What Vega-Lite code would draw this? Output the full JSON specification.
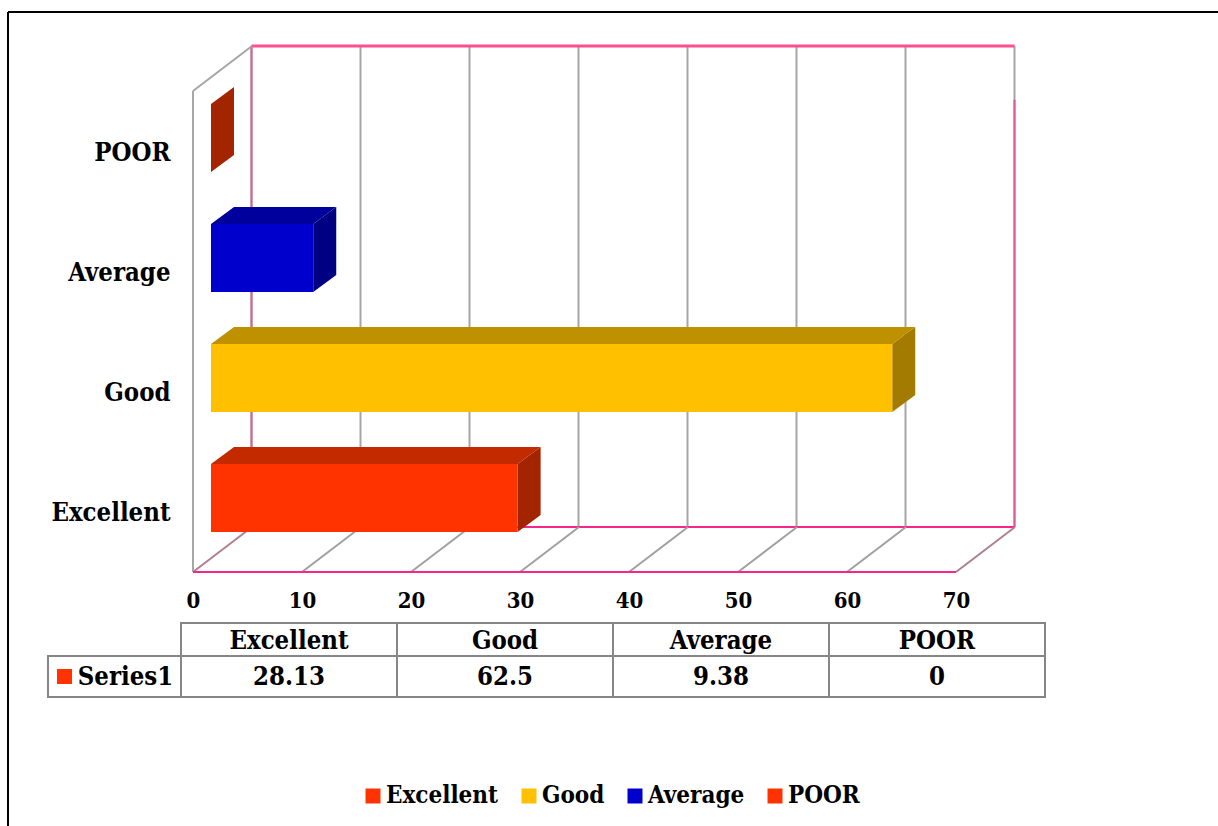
{"$schema":"https://vega.github.io/schema/vega-lite/v6.json","width":1218,"height":826,"padding":0,"autosize":{"type":"none"},"background":"white","config":{"view":{"stroke":null},"font":"DejaVu Serif Condensed"},
"datasets":{"bars":[{"category":"Excellent","value":28.13},{"category":"Good","value":62.5},{"category":"Average","value":9.38},{"category":"POOR","value":0}],
"ticks":[{"tick":0},{"tick":10},{"tick":20},{"tick":30},{"tick":40},{"tick":50},{"tick":60},{"tick":70}],
"series":[{"series":"Series1"}],"one":[{"n":1}]},
"resolve":{"scale":{"x":"independent","y":"independent","color":"independent"}},
"layer":[
{"data":{"name":"one"},"mark":{"type":"rule","color":"#000000","strokeWidth":2},"encoding":{"x":{"datum":0,"type":"quantitative","scale":{"domain":[0,1],"range":[8,1218]},"axis":null},"x2":{"datum":1},"y":{"datum":0,"type":"quantitative","scale":{"domain":[0,1],"range":[12,826]},"axis":null}}},
{"data":{"name":"one"},"mark":{"type":"rule","color":"#000000","strokeWidth":2},"encoding":{"x":{"datum":0,"type":"quantitative","scale":{"domain":[0,1],"range":[8,1218]},"axis":null},"y":{"datum":0,"type":"quantitative","scale":{"domain":[0,1],"range":[12,826]},"axis":null},"y2":{"datum":1}}},
{"data":{"name":"ticks"},"mark":{"type":"rule","color":"#A6A6A6","strokeWidth":2,"xOffset":58.5},"encoding":{"x":{"field":"tick","type":"quantitative","scale":{"domain":[0,70],"range":[193,956],"nice":false,"zero":false},"axis":{"values":[0,10,20,30,40,50,60,70],"orient":"bottom","offset":-236,"title":null,"domain":false,"ticks":false,"grid":false,"labelPadding":0,"labelBaseline":"top","labelFont":"DejaVu Serif Condensed","labelFontWeight":"bold","labelFontSize":22,"labelColor":"#000000","labelFlush":false,"labelOverlap":false,"labelBound":false}},"y":{"datum":0,"type":"quantitative","scale":{"domain":[0,1],"range":[527,46]},"axis":null},"y2":{"datum":1}}},
{"data":{"name":"one"},"mark":{"type":"rule","color":"#D8608F","strokeWidth":2,"xOffset":58.5},"encoding":{"x":{"datum":0,"type":"quantitative","scale":{"domain":[0,70],"range":[193,956],"nice":false,"zero":false},"axis":null},"y":{"datum":0,"type":"quantitative","scale":{"domain":[0,1],"range":[527,46]},"axis":null},"y2":{"datum":1}}},
{"data":{"name":"one"},"mark":{"type":"rule","color":"#DC5A90","strokeWidth":2,"xOffset":58.5},"encoding":{"x":{"datum":70,"type":"quantitative","scale":{"domain":[0,70],"range":[193,956],"nice":false,"zero":false},"axis":null},"y":{"datum":0,"type":"quantitative","scale":{"domain":[0,1],"range":[527,46]},"axis":null},"y2":{"datum":0.888}}},
{"data":{"name":"one"},"mark":{"type":"rule","color":"#FF4F90","strokeWidth":3,"xOffset":58.5,"x2Offset":58.5},"encoding":{"x":{"datum":0,"type":"quantitative","scale":{"domain":[0,70],"range":[193,956],"nice":false,"zero":false},"axis":null},"x2":{"datum":70},"y":{"datum":1,"type":"quantitative","scale":{"domain":[0,1],"range":[527,46]},"axis":null}}},
{"data":{"name":"one"},"mark":{"type":"rule","color":"#F5288A","strokeWidth":2,"xOffset":58.5,"x2Offset":58.5},"encoding":{"x":{"datum":0,"type":"quantitative","scale":{"domain":[0,70],"range":[193,956],"nice":false,"zero":false},"axis":null},"x2":{"datum":70},"y":{"datum":0,"type":"quantitative","scale":{"domain":[0,1],"range":[527,46]},"axis":null}}},
{"data":{"name":"ticks"},"transform":[{"filter":"datum.tick > 0 && datum.tick < 70"}],"mark":{"type":"point","shape":"M0,0L59,-45","size":4,"filled":false,"color":"#A0A0A0","strokeWidth":2,"opacity":1},"encoding":{"x":{"field":"tick","type":"quantitative","scale":{"domain":[0,70],"range":[193,956],"nice":false,"zero":false},"axis":null},"y":{"datum":0,"type":"quantitative","scale":{"domain":[0,1],"range":[572,91]},"axis":null}}},
{"data":{"name":"ticks"},"transform":[{"filter":"datum.tick == 0 || datum.tick == 70"}],"mark":{"type":"point","shape":"M0,0L59,-45","size":4,"filled":false,"color":"#B07F93","strokeWidth":2,"opacity":1},"encoding":{"x":{"field":"tick","type":"quantitative","scale":{"domain":[0,70],"range":[193,956],"nice":false,"zero":false},"axis":null},"y":{"datum":0,"type":"quantitative","scale":{"domain":[0,1],"range":[572,91]},"axis":null}}},
{"data":{"name":"one"},"mark":{"type":"point","shape":"M0,0L59,-45","size":4,"filled":false,"color":"#A6A6A6","strokeWidth":2,"opacity":1},"encoding":{"x":{"datum":0,"type":"quantitative","scale":{"domain":[0,70],"range":[193,956],"nice":false,"zero":false},"axis":null},"y":{"datum":1,"type":"quantitative","scale":{"domain":[0,1],"range":[572,91]},"axis":null}}},
{"data":{"name":"one"},"mark":{"type":"rule","color":"#A6A6A6","strokeWidth":2},"encoding":{"x":{"datum":0,"type":"quantitative","scale":{"domain":[0,70],"range":[193,956],"nice":false,"zero":false},"axis":null},"y":{"datum":0,"type":"quantitative","scale":{"domain":[0,1],"range":[572,91]},"axis":null},"y2":{"datum":1}}},
{"data":{"name":"one"},"mark":{"type":"rule","color":"#F5288A","strokeWidth":2},"encoding":{"x":{"datum":0,"type":"quantitative","scale":{"domain":[0,70],"range":[193,956],"nice":false,"zero":false},"axis":null},"x2":{"datum":70},"y":{"datum":0,"type":"quantitative","scale":{"domain":[0,1],"range":[572,91]},"axis":null}}},
{"data":{"name":"bars"},"mark":{"type":"point","shape":"M18,-48L41,-65L41,3L18,20Z","size":4,"filled":true,"opacity":1,"strokeWidth":0},"encoding":{"x":{"field":"value","type":"quantitative","scale":{"domain":[0,70],"range":[193,956],"nice":false,"zero":false},"axis":null},"y":{"field":"category","type":"nominal","sort":["POOR","Average","Good","Excellent"],"scale":{"domain":["POOR","Average","Good","Excellent"],"range":[92,572],"paddingInner":0,"paddingOuter":0},"axis":null},"color":{"field":"category","type":"nominal","scale":{"domain":["Excellent","Good","Average","POOR"],"range":["#A32500","#A37B00","#000083","#A32500"]},"legend":null}}},
{"data":{"name":"bars"},"transform":[{"filter":"datum.value > 0"}],"mark":{"type":"bar","size":17,"yOffset":-56.5,"xOffset":18,"x2Offset":41},"encoding":{"x":{"field":"value","type":"quantitative","scale":{"domain":[0,70],"range":[193,956],"nice":false,"zero":false},"axis":null},"x2":{"datum":0},"y":{"field":"category","type":"nominal","scale":{"domain":["POOR","Average","Good","Excellent"],"range":[92,572],"paddingInner":0,"paddingOuter":0},"axis":null},"color":{"field":"category","type":"nominal","scale":{"domain":["Excellent","Good","Average","POOR"],"range":["#C42A00","#BF9000","#00009C","#C42A00"]},"legend":null}}},
{"data":{"name":"bars"},"transform":[{"filter":"datum.value > 0"}],"mark":{"type":"point","shape":"M16,-48L18,-48L41,-65L16,-65Z","size":4,"filled":true,"opacity":1,"strokeWidth":0},"encoding":{"x":{"field":"value","type":"quantitative","scale":{"domain":[0,70],"range":[193,956],"nice":false,"zero":false},"axis":null},"y":{"field":"category","type":"nominal","scale":{"domain":["POOR","Average","Good","Excellent"],"range":[92,572],"paddingInner":0,"paddingOuter":0},"axis":null},"color":{"field":"category","type":"nominal","scale":{"domain":["Excellent","Good","Average","POOR"],"range":["#C42A00","#BF9000","#00009C","#C42A00"]},"legend":null}}},
{"data":{"name":"bars"},"transform":[{"filter":"datum.value > 0"}],"mark":{"type":"point","shape":"M18,-48L41,-65L43,-65L43,-48Z","size":4,"filled":true,"opacity":1,"strokeWidth":0},"encoding":{"x":{"datum":0,"type":"quantitative","scale":{"domain":[0,70],"range":[193,956],"nice":false,"zero":false},"axis":null},"y":{"field":"category","type":"nominal","scale":{"domain":["POOR","Average","Good","Excellent"],"range":[92,572],"paddingInner":0,"paddingOuter":0},"axis":null},"color":{"field":"category","type":"nominal","scale":{"domain":["Excellent","Good","Average","POOR"],"range":["#C42A00","#BF9000","#00009C","#C42A00"]},"legend":null}}},
{"data":{"name":"bars"},"mark":{"type":"bar","size":68,"yOffset":-14,"xOffset":18,"x2Offset":18},"encoding":{"x":{"field":"value","type":"quantitative","scale":{"domain":[0,70],"range":[193,956],"nice":false,"zero":false},"axis":null},"x2":{"datum":0},"y":{"field":"category","type":"nominal","scale":{"domain":["POOR","Average","Good","Excellent"],"range":[92,572],"paddingInner":0,"paddingOuter":0},"axis":{"orient":"left","offset":-170,"title":null,"domain":false,"ticks":false,"grid":false,"labelPadding":0,"labelAlign":"right","labelOffset":1,"labelFont":"DejaVu Serif Condensed","labelFontWeight":"bold","labelFontSize":25.5,"labelColor":"#000000"}},"color":{"field":"category","type":"nominal","scale":{"domain":["Excellent","Good","Average","POOR"],"range":["#FF3300","#FFC000","#0000CC","#FF3300"]},"legend":{"orient":"none","legendX":361,"legendY":784,"direction":"horizontal","columns":4,"title":null,"symbolType":"square","symbolSize":225,"symbolStrokeWidth":0,"labelFont":"DejaVu Serif Condensed","labelFontWeight":"bold","labelFontSize":24,"labelColor":"#000000","labelOffset":1,"columnPadding":18,"labelLimit":300}}}},
{"data":{"name":"bars"},"mark":{"type":"bar","fill":"white","stroke":"#868686","strokeWidth":2},"encoding":{"x":{"field":"category","type":"nominal","scale":{"domain":["Excellent","Good","Average","POOR"],"range":[181,1045],"paddingInner":0,"paddingOuter":0},"axis":null},"y":{"datum":"header","type":"nominal","scale":{"domain":["header"],"range":[623,656],"paddingInner":0,"paddingOuter":0},"axis":null}}},
{"data":{"name":"bars"},"mark":{"type":"text","font":"DejaVu Serif Condensed","fontWeight":"bold","fontSize":25.5,"color":"#000000","baseline":"middle","align":"center","dy":1},"encoding":{"x":{"field":"category","type":"nominal","scale":{"domain":["Excellent","Good","Average","POOR"],"range":[181,1045],"paddingInner":0,"paddingOuter":0},"axis":null},"y":{"datum":"header","type":"nominal","scale":{"domain":["header"],"range":[623,656],"paddingInner":0,"paddingOuter":0},"axis":null},"text":{"field":"category","type":"nominal"}}},
{"data":{"name":"bars"},"mark":{"type":"bar","fill":"white","stroke":"#868686","strokeWidth":2},"encoding":{"x":{"field":"category","type":"nominal","scale":{"domain":["Excellent","Good","Average","POOR"],"range":[181,1045],"paddingInner":0,"paddingOuter":0},"axis":null},"y":{"datum":"row","type":"nominal","scale":{"domain":["row"],"range":[656,697],"paddingInner":0,"paddingOuter":0},"axis":null}}},
{"data":{"name":"bars"},"mark":{"type":"text","font":"DejaVu Serif Condensed","fontWeight":"bold","fontSize":25.5,"color":"#000000","baseline":"middle","align":"center"},"encoding":{"x":{"field":"category","type":"nominal","scale":{"domain":["Excellent","Good","Average","POOR"],"range":[181,1045],"paddingInner":0,"paddingOuter":0},"axis":null},"y":{"datum":"row","type":"nominal","scale":{"domain":["row"],"range":[656,697],"paddingInner":0,"paddingOuter":0},"axis":null},"text":{"field":"value","type":"nominal"}}},
{"data":{"name":"series"},"mark":{"type":"bar","fill":"white","stroke":"#868686","strokeWidth":2},"encoding":{"x":{"field":"series","type":"nominal","scale":{"domain":["Series1"],"range":[48,181],"paddingInner":0,"paddingOuter":0},"axis":null},"y":{"datum":"row","type":"nominal","scale":{"domain":["row"],"range":[656,697],"paddingInner":0,"paddingOuter":0},"axis":null}}},
{"data":{"name":"series"},"mark":{"type":"point","shape":"square","size":225,"filled":true,"color":"#FF3300","opacity":1,"strokeWidth":0,"xOffset":-50},"encoding":{"x":{"field":"series","type":"nominal","scale":{"domain":["Series1"],"range":[48,181],"paddingInner":0,"paddingOuter":0},"axis":null},"y":{"datum":"row","type":"nominal","scale":{"domain":["row"],"range":[656,697],"paddingInner":0,"paddingOuter":0},"axis":null}}},
{"data":{"name":"series"},"mark":{"type":"text","font":"DejaVu Serif Condensed","fontWeight":"bold","fontSize":25.5,"color":"#000000","baseline":"middle","align":"center","dx":11},"encoding":{"x":{"field":"series","type":"nominal","scale":{"domain":["Series1"],"range":[48,181],"paddingInner":0,"paddingOuter":0},"axis":null},"y":{"datum":"row","type":"nominal","scale":{"domain":["row"],"range":[656,697],"paddingInner":0,"paddingOuter":0},"axis":null},"text":{"field":"series","type":"nominal"}}}
]}
